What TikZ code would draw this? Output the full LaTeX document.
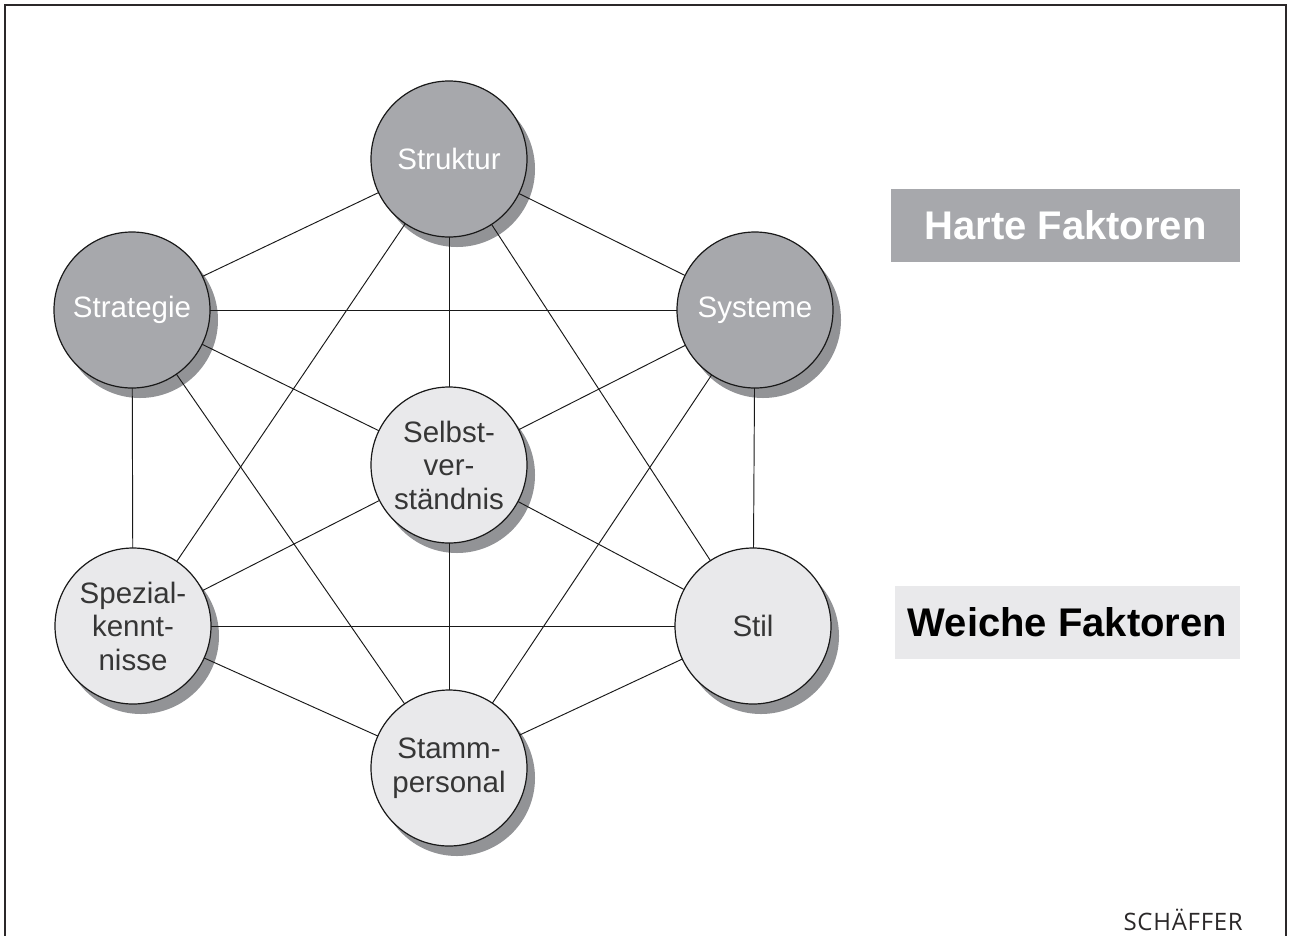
\documentclass[tikz,border=0pt]{standalone}
\usepackage{fontspec}
\setmainfont{Liberation Sans}
\newfontfamily\brandfont[LetterSpace=3]{Open Sans}
\pgfdeclarelayer{shadowlayer}
\pgfdeclarelayer{edgelayer}
\pgfsetlayers{shadowlayer,edgelayer,main}
\definecolor{hardfill}{HTML}{A7A8AC}
\definecolor{softfill}{HTML}{E9E9EB}
\definecolor{shadowc}{HTML}{929396}
\definecolor{softtext}{HTML}{363636}
\definecolor{framec}{HTML}{2B2829}
\tikzset{
  factor/.style={circle, minimum size=156pt, inner sep=0pt, draw=black!90, line width=1.2pt,
    align=center, font=\fontsize{29.5}{33.5}\selectfont},
  hard/.style={factor, fill=hardfill, text=white},
  soft/.style={factor, fill=softfill, text=softtext},
  link/.style={line width=0.95pt, draw=black!90},
  legend/.style={minimum width=349pt, minimum height=73pt, inner sep=0pt,
    font=\bfseries\fontsize{40}{40}\selectfont}
}
\begin{document}
\begin{tikzpicture}[x=1pt,y=-1pt]
\useasboundingbox (0,0) rectangle (1289,935);
% page frame, open at the bottom
\draw[framec, line width=2.2pt] (5,940) -- (5,5) -- (1286,5) -- (1286,940);

% the seven factors
\node[hard] (struktur)   at (449,159) {Struktur};
\node[hard] (strategie)  at (132,310) {Strategie};
\node[hard] (systeme)    at (755,310) {Systeme};
\node[soft] (selbst)     at (449,465) {Selbst-\\ver-\\ständnis};
\node[soft] (spezial)    at (133,626) {Spezial-\\kennt-\\nisse};
\node[soft] (stil)       at (753,626) {Stil};
\node[soft] (stamm)      at (449,768) {Stamm-\\personal};

% drop shadows
\begin{pgfonlayer}{shadowlayer}
  \foreach \n in {struktur,strategie,systeme,selbst,spezial,stil,stamm}
    \fill[shadowc] ([shift={(8,10)}]\n.center) circle (78);
\end{pgfonlayer}

% every factor is linked with every other one
\begin{pgfonlayer}{edgelayer}
  \foreach \a/\b in {struktur/strategie, struktur/systeme, struktur/selbst,
      struktur/spezial, struktur/stil, strategie/systeme, strategie/selbst,
      strategie/spezial, strategie/stamm, systeme/selbst, systeme/stil,
      systeme/stamm, selbst/spezial, selbst/stil, selbst/stamm,
      spezial/stil, spezial/stamm, stil/stamm}
    \draw[link] (\a.center) -- (\b.center);
\end{pgfonlayer}

% legend
\node[legend, fill=hardfill, text=white] (harte) at (1065.5,225.5) {Harte Faktoren};
\node[legend, fill=softfill, text=black, minimum width=345pt] (weiche) at (1067.5,622.5) {Weiche Faktoren};

% publisher
\node[anchor=base east, inner sep=0pt, text=framec, font=\brandfont\fontsize{24}{24}\selectfont] (verlag) at (1243,930) {SCHÄFFER};
\end{tikzpicture}
\end{document}
